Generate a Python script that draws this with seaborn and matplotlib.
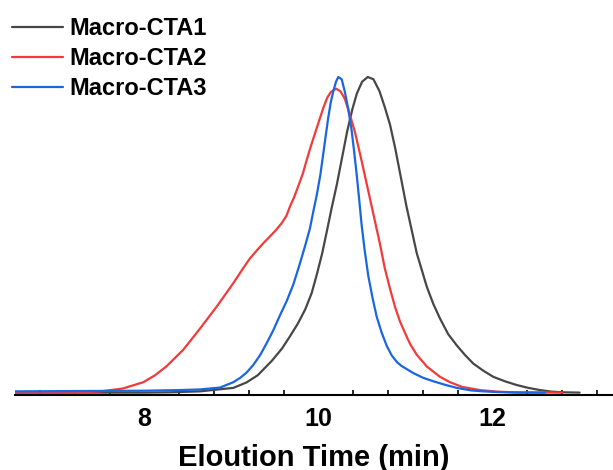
import numpy as np
import pandas as pd
import seaborn as sns
import matplotlib.pyplot as plt
from matplotlib.ticker import MultipleLocator

# GPC traces (elution time in min, normalised intensity)
cta1_t = [6.51, 8.0, 8.3, 8.637, 9.02, 9.17, 9.30, 9.46, 9.58, 9.67, 9.76, 9.845, 9.92,
          9.98, 10.04, 10.09, 10.15, 10.21, 10.27, 10.33, 10.39, 10.44, 10.50, 10.565,
          10.63, 10.70, 10.76, 10.82, 10.88, 10.94, 11.01, 11.07, 11.128, 11.19, 11.243,
          11.32, 11.395, 11.49, 11.587, 11.68, 11.778, 11.89, 12.008, 12.14, 12.277,
          12.41, 12.545, 12.68, 12.81, 13.0]
cta1_v = [0.0, 0.0, 0.001, 0.004, 0.015, 0.032, 0.055, 0.100, 0.140, 0.178, 0.218, 0.263, 0.315,
          0.375, 0.44, 0.505, 0.585, 0.66, 0.745, 0.83, 0.90, 0.948, 0.985, 1.0,
          0.993, 0.955, 0.905, 0.85, 0.775, 0.69, 0.59, 0.515, 0.442, 0.385, 0.336,
          0.28, 0.235, 0.185, 0.15, 0.12, 0.092, 0.07, 0.05, 0.036, 0.024,
          0.015, 0.008, 0.003, 0.001, 0.0]

cta2_t = [6.51, 7.2, 7.5, 7.75, 7.985, 8.12, 8.25, 8.445, 8.637, 8.83, 9.02, 9.135, 9.21,
          9.288, 9.36, 9.441, 9.51, 9.576, 9.63, 9.671, 9.72, 9.767, 9.82, 9.863, 9.91,
          9.959, 10.01, 10.054, 10.10, 10.14, 10.20, 10.25, 10.30, 10.36, 10.418, 10.475,
          10.53, 10.59, 10.65, 10.706, 10.76, 10.82, 10.88, 10.936, 11.0, 11.05, 11.128,
          11.243, 11.395, 11.51, 11.65, 11.855, 12.05, 12.24, 12.8]
cta2_v = [0.0, 0.0, 0.004, 0.013, 0.033, 0.055, 0.083, 0.136, 0.203, 0.273, 0.347, 0.395, 0.425,
          0.450, 0.472, 0.495, 0.515, 0.537, 0.56, 0.59, 0.62, 0.655, 0.695, 0.737, 0.78,
          0.822, 0.865, 0.902, 0.935, 0.952, 0.963, 0.955, 0.932, 0.88, 0.825, 0.758,
          0.69, 0.615, 0.54, 0.47, 0.395, 0.33, 0.27, 0.225, 0.185, 0.155, 0.12,
          0.083, 0.05, 0.033, 0.018, 0.008, 0.003, 0.001, 0.0]

cta3_t = [6.51, 8.0, 8.4, 8.637, 8.867, 9.02, 9.10, 9.174, 9.25, 9.326, 9.40, 9.48, 9.556,
          9.633, 9.71, 9.786, 9.85, 9.90, 9.94, 9.978, 10.02, 10.054, 10.085, 10.11, 10.14,
          10.169, 10.20, 10.226, 10.265, 10.30, 10.34, 10.38, 10.41, 10.438, 10.467, 10.495,
          10.53, 10.571, 10.62, 10.668, 10.725, 10.783, 10.84, 10.90, 10.95, 11.088, 11.20,
          11.318, 11.45, 11.587, 11.75, 11.89, 12.05, 12.3, 12.6]
cta3_v = [0.004, 0.006, 0.008, 0.010, 0.016, 0.033, 0.047, 0.064, 0.088, 0.118, 0.155, 0.198, 0.245,
          0.29, 0.343, 0.41, 0.47, 0.52, 0.575, 0.625, 0.69, 0.758, 0.82, 0.87, 0.92,
          0.955, 0.985, 1.0, 0.993, 0.955, 0.90, 0.83, 0.76, 0.69, 0.61, 0.53,
          0.45, 0.37, 0.30, 0.24, 0.19, 0.148, 0.118, 0.097, 0.085, 0.062, 0.047,
          0.036, 0.025, 0.015, 0.007, 0.004, 0.002, 0.0, 0.0]

names = ['Macro-CTA1', 'Macro-CTA2', 'Macro-CTA3']
colors = ['#474747', '#f23a3a', '#1a66e0']

sns.set_theme(style='white')
plt.rcParams['font.family'] = ['Liberation Sans', 'DejaVu Sans']
plt.rcParams['font.weight'] = 'bold'
plt.rcParams['text.color'] = 'black'
plt.rcParams['axes.labelcolor'] = 'black'
plt.rcParams['xtick.color'] = 'black'

fig = plt.figure(figsize=(6.13, 4.70), dpi=100)
ax = fig.add_axes([15 / 613, 75.5 / 470, 598 / 613, 394.5 / 470])

series = [(cta1_t, cta1_v), (cta2_t, cta2_v), (cta3_t, cta3_v)]
for (t, v), name, c in zip(series, names, colors):
    df = pd.DataFrame({'time': t, 'intensity': v})
    sns.lineplot(data=df, x='time', y='intensity', ax=ax, color=c, lw=1.6,
                 label=name, sort=False, estimator=None)

ax.set_xlim(6.51, 13.384)
ax.set_ylim(-0.006, 1.244)

for s in ['left', 'right', 'top']:
    ax.spines[s].set_visible(False)
ax.spines['bottom'].set_color('black')
ax.spines['bottom'].set_linewidth(1.5)

ax.xaxis.set_major_locator(MultipleLocator(2))
ax.xaxis.set_minor_locator(MultipleLocator(0.4))
ax.tick_params(axis='x', which='major', direction='in', length=8, width=1.4,
               color='black', labelcolor='black', pad=9, labelsize=18)
ax.tick_params(axis='x', which='minor', direction='in', length=3.6, width=1.2,
               color='black', bottom=True)
ax.set_yticks([])
for lbl in ax.get_xticklabels():
    lbl.set_fontweight('bold')

ax.set_xlabel('Eloution Time (min)', fontsize=21, fontweight='bold', labelpad=9,
              color='black')
ax.set_ylabel('')

leg = ax.legend(loc='upper left', bbox_to_anchor=(12 / 613, 1 - 17 / 470),
                bbox_transform=fig.transFigure, frameon=False, fontsize=17,
                handlelength=2.15, handletextpad=0.28, labelspacing=0.3,
                borderpad=0, borderaxespad=0)
for txt in leg.get_texts():
    txt.set_fontweight('bold')
    txt.set_color('black')

fig.savefig('out.png', dpi=100)
